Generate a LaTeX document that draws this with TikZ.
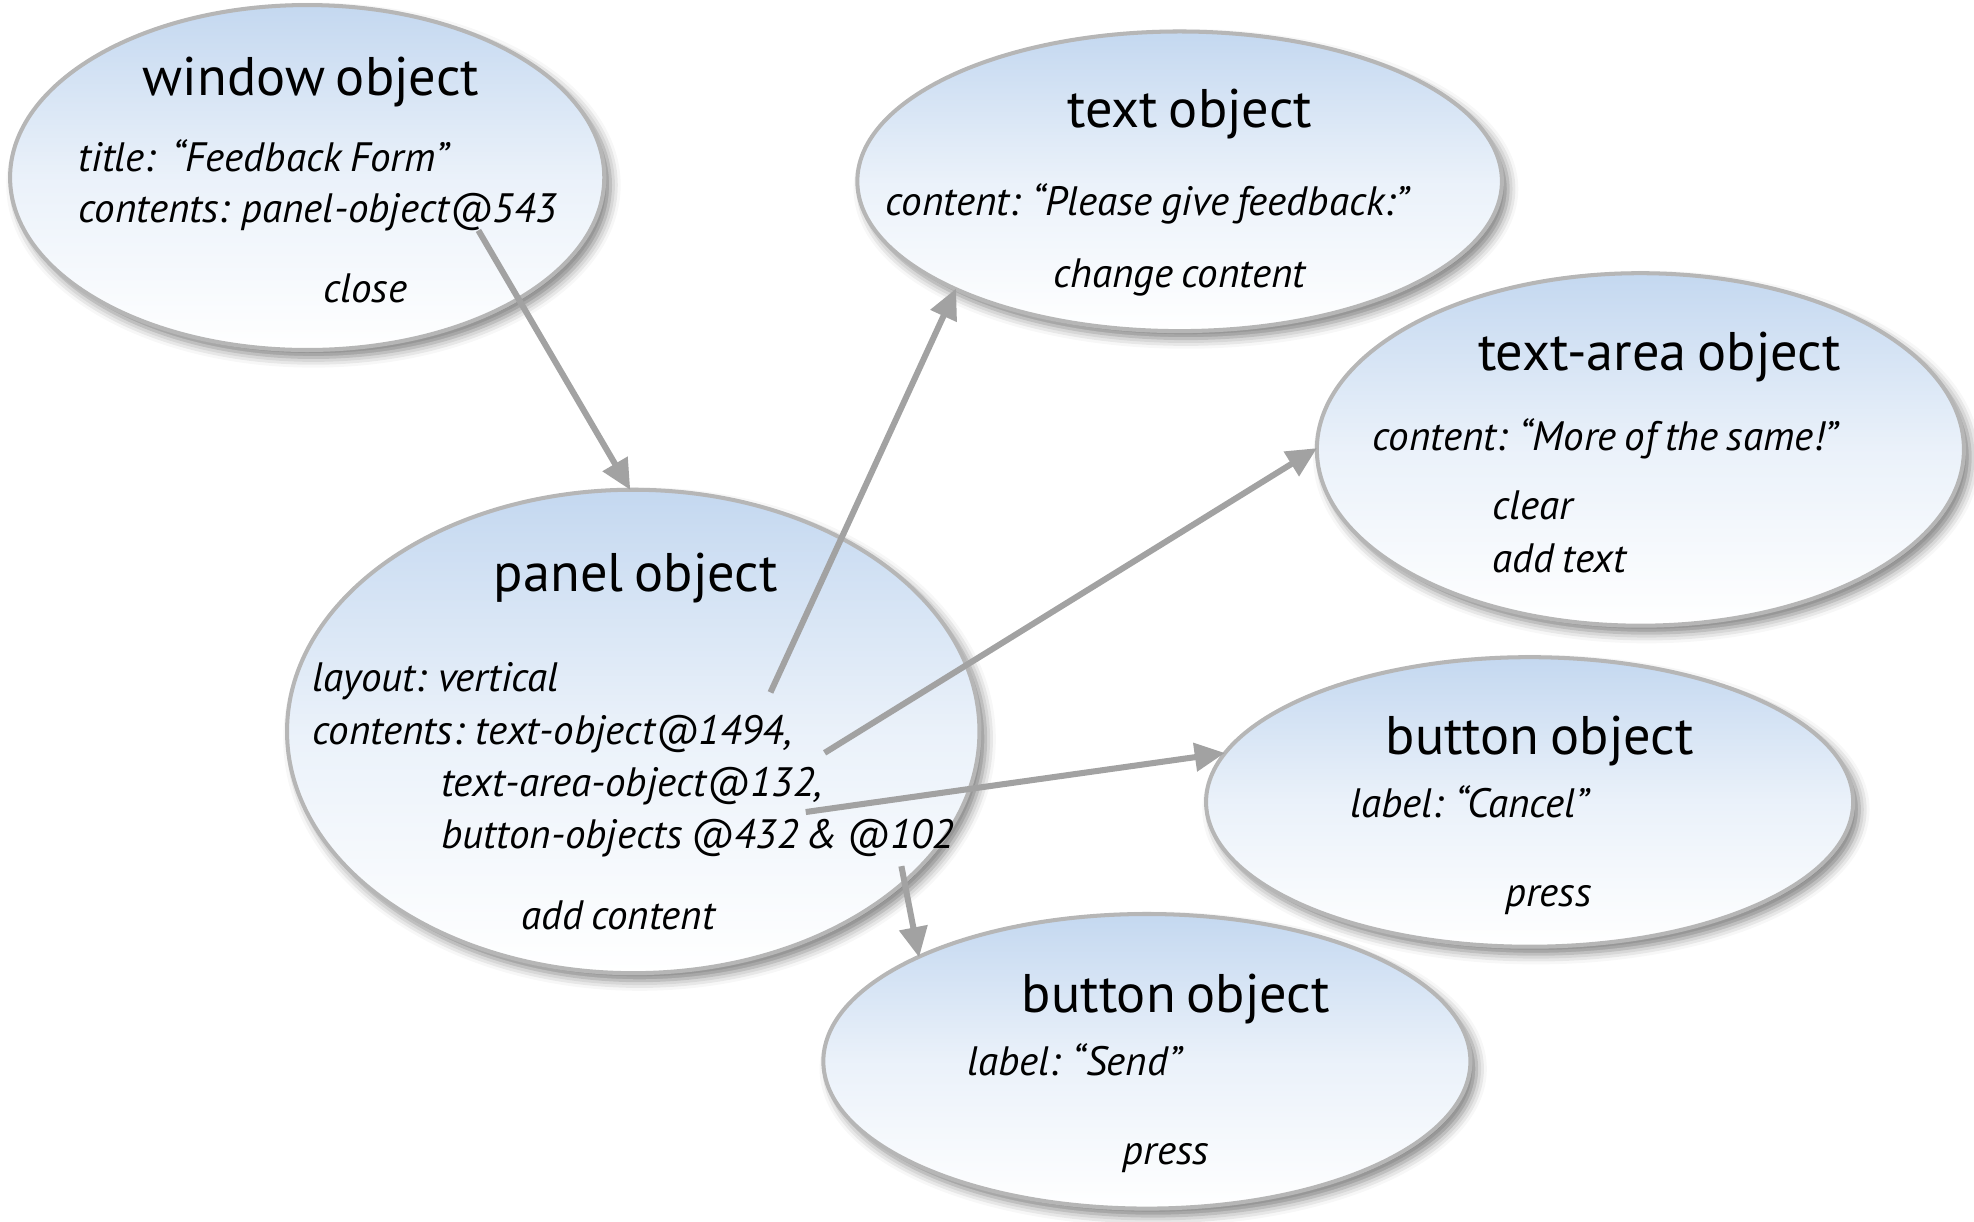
\documentclass[tikz,border=0pt]{standalone}
\usepackage{fontspec}
\setmainfont{PT Sans}[WordSpace=0.75]
\usetikzlibrary{arrows.meta,shadows.blur,shapes.geometric}
\definecolor{ellblue}{RGB}{196,216,240}
\definecolor{ellborder}{RGB}{182,182,182}
\definecolor{arrgray}{RGB}{162,162,162}
\begin{document}
\begin{tikzpicture}[x=0.5pt,y=-0.5pt,
  objell/.style={ellipse, draw=ellborder, line width=1.6pt, inner sep=0pt,
    top color=ellblue, bottom color=white, middle color=ellblue!35!white,
    blur shadow={shadow xshift=2.5pt, shadow yshift=-3pt, shadow blur radius=4pt, shadow opacity=50}},
  ttl/.style={anchor=base, inner sep=0pt, font=\fontsize{21.6}{25}\selectfont},
  itl/.style={anchor=base west, inner sep=0pt, font=\fontsize{16.3}{20}\selectfont\itshape},
  itc/.style={anchor=base, inner sep=0pt, font=\fontsize{16.3}{20}\selectfont\itshape},
  conn/.style={draw=arrgray, line width=2.4pt, -{Triangle[length=12pt,width=11pt]}, shorten >=-1pt}
]
\useasboundingbox (0,0) rectangle (1568,970);
% ellipses (sizes in pt = half of pixel extents)
\node[objell, minimum width=236pt, minimum height=137pt] (win) at (244,141) {};
\node[objell, minimum width=256pt, minimum height=119pt] (txt) at (937,144) {};
\node[objell, minimum width=257pt, minimum height=140pt] (area) at (1303,357) {};
\node[objell, minimum width=275pt, minimum height=192pt] (pan) at (503,581) {};
\node[objell, minimum width=257pt, minimum height=115pt] (bcan) at (1215,637) {};
\node[objell, minimum width=257pt, minimum height=117pt] (bsend) at (911,843) {};
% window texts
\node[ttl] (wt) at (247,76) {window object};
\node[itl] (w1) at (62,136) {title:\ \ “Feedback Form”};
\node[itl] (w2) at (62,177) {contents: panel-object@543};
\node[itc] (w3) at (290,240) {close};
% text object
\node[ttl] (tt) at (945,101) {text object};
\node[itl] (t1) at (703,171) {content: “Please give feedback:”};
\node[itc] (t2) at (937,228) {change content};
% text-area
\node[ttl] (at) at (1318,294) {text-area object};
\node[itl] (a1) at (1090,358) {content: “More of the same!”};
\node[itl] (a2) at (1185,413) {clear};
\node[itl] (a3) at (1185,455) {add text};
% panel
\node[ttl] (pt) at (505,470) {panel object};
\node[itl] (p1) at (248,549) {layout: vertical};
\node[itl] (p2) at (248,591) {contents: text-object@1494,};
\node[itl] (p3) at (350,633) {text-area-object@132,};
\node[itl] (p4) at (350,674) {button-objects @432 \& @102};
\node[itc] (p5) at (491,738) {add content};
% cancel
\node[ttl] (ct) at (1223,599) {button object};
\node[itl] (c1) at (1072,649) {label: “Cancel”};
\node[itc] (c2) at (1230,720) {press};
% send
\node[ttl] (st) at (934,804) {button object};
\node[itl] (s1) at (768,854) {label: “Send”};
\node[itc] (s2) at (926,925) {press};
% connector start points
\coordinate (o1) at (380,183);
\coordinate (o2) at (612,550);
\coordinate (o3) at (655,598);
\coordinate (o4) at (640,645);
\coordinate (o5) at (716,688);
% connectors
\draw[conn] (o1) -- (pan.91);
\draw[conn] (o2) -- (txt.206.3);
\draw[conn] (o3) -- (area.180);
\draw[conn] (o4) -- (bcan.171.4);
\draw[conn] (o5) -- (bsend.155.4);
\end{tikzpicture}
\end{document}
